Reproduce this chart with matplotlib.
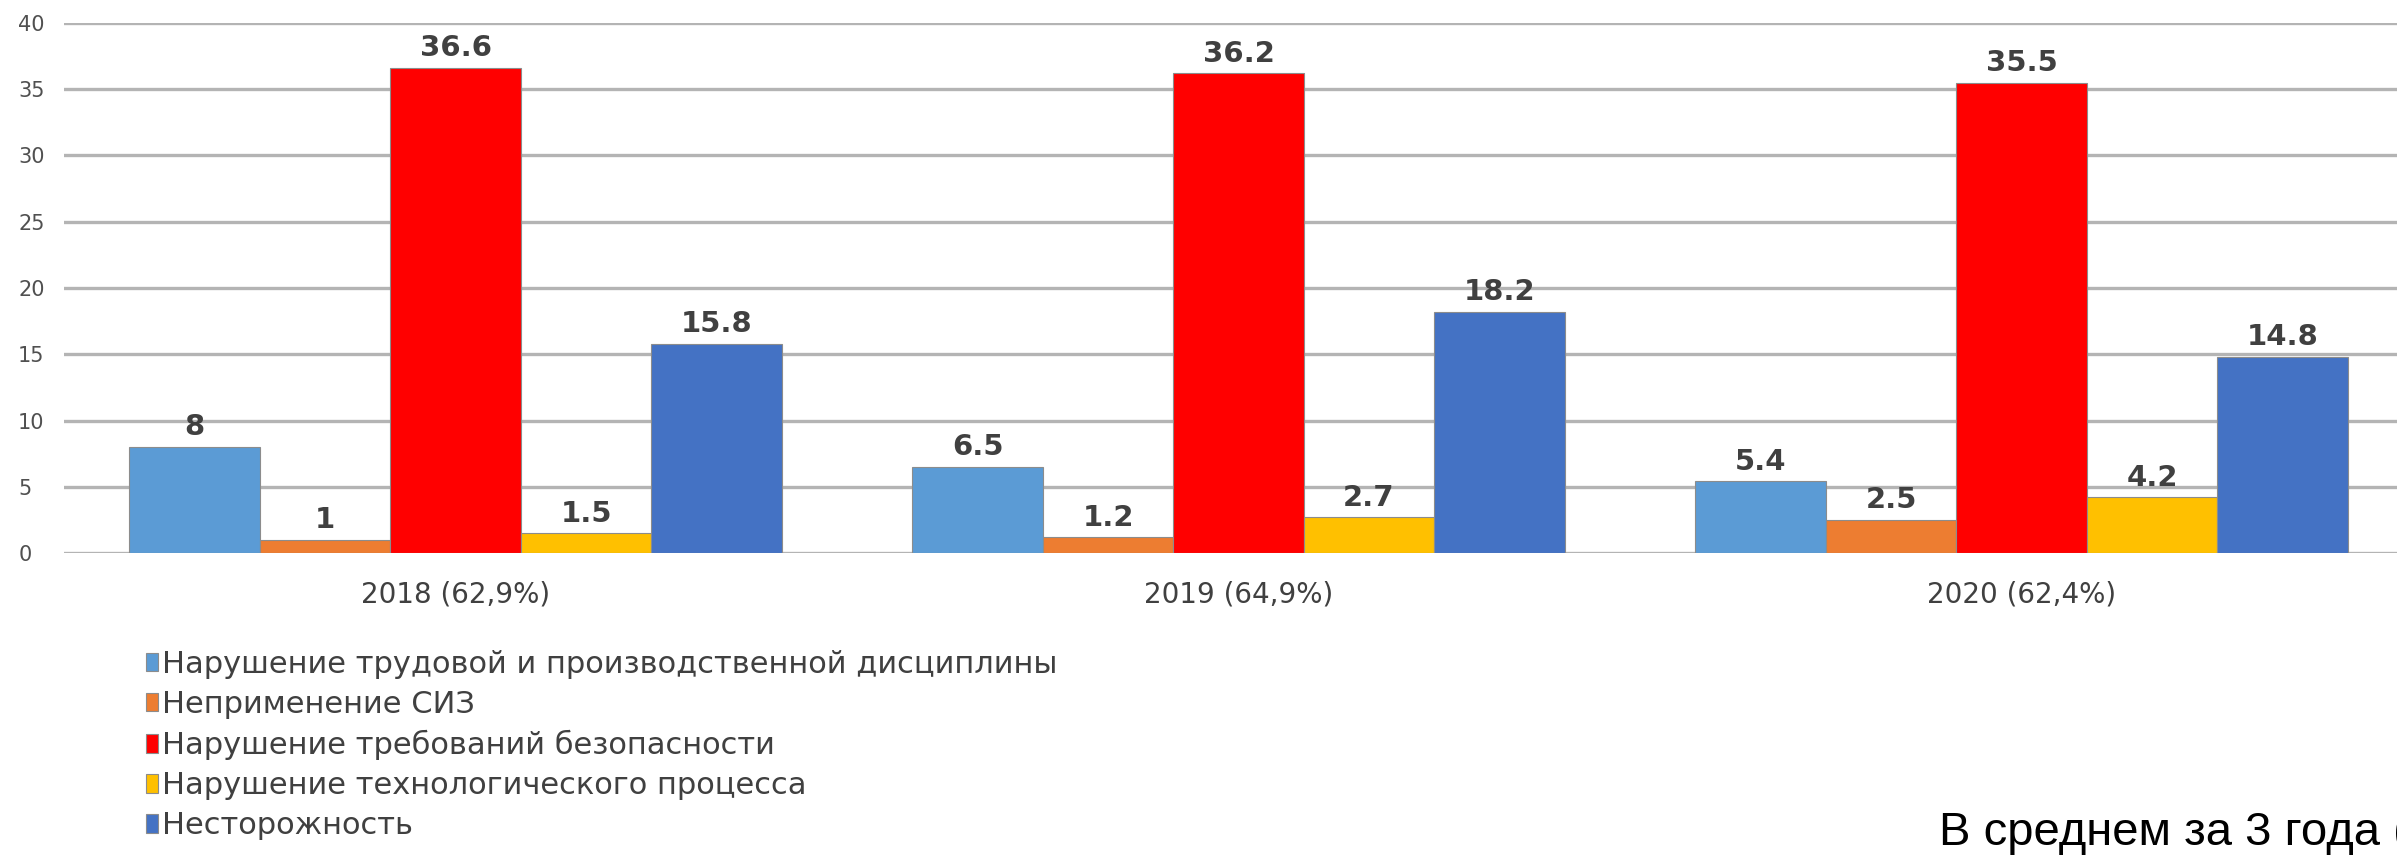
import numpy as np
import matplotlib
matplotlib.use('Agg')
import matplotlib.pyplot as plt

# values
years = ['2018 (62,9%)', '2019 (64,9%)', '2020 (62,4%)']
causes = ['Нарушение трудовой и производственной дисциплины',
          'Неприменение СИЗ',
          'Нарушение требований безопасности',
          'Нарушение технологического процесса',
          'Несторожность']
discipline = [8, 6.5, 5.4]
no_ppe = [1, 1.2, 2.5]
safety = [36.6, 36.2, 35.5]
process = [1.5, 2.7, 4.2]
careless = [15.8, 18.2, 14.8]
colors = ['#5b9bd5', '#ed7d31', '#ff0000', '#ffc000', '#4472c4']
yticks = [0, 5, 10, 15, 20, 25, 30, 35, 40]

plt.rcParams['font.family'] = ['DejaVu Sans']

fig = plt.figure(figsize=(23.97, 8.61), dpi=100)
ax = fig.add_axes([0.0267, 0.3577, 0.980, 0.6156])

x = np.arange(len(years))
w = 1 / 6
series = [discipline, no_ppe, safety, process, careless]
for i, (vals, lab, c) in enumerate(zip(series, causes, colors)):
    bars = ax.bar(x + (i - 2) * w, vals, w, color=c, label=lab,
                  edgecolor='#8c8c8c', linewidth=0.8, zorder=3)
    ax.bar_label(bars, labels=[f'{v:g}' for v in vals], padding=4,
                 fontsize=21, fontweight='bold', color='#404040')

ax.set_xlim(-0.5, 2.5)
ax.set_ylim(0, 40)
ax.set_yticks(yticks)
ax.set_xticks(x)
ax.set_xticklabels(years, fontsize=20, color='#404040')
ax.yaxis.grid(True, color='#b4b4b4', linewidth=2.4)
ax.set_axisbelow(True)
for s in ax.spines.values():
    s.set_visible(False)
ax.tick_params(axis='both', length=0)
ax.tick_params(axis='y', labelsize=15, labelcolor='#505050', pad=33)
ax.tick_params(axis='x', pad=20)
for t in ax.get_yticklabels():
    t.set_horizontalalignment('left')

fig.legend(loc='upper left', bbox_to_anchor=(0.061, 0.245), frameon=False,
           fontsize=22, labelcolor='#404040', handlelength=0.4,
           handleheight=0.55, handletextpad=0.12, labelspacing=0.36,
           borderpad=0, borderaxespad=0)

fig.text(0.809, 0.0325, 'В среднем за 3 года (', fontsize=34,
         family='Liberation Sans', va='center', ha='left', color='black')

fig.savefig('out.png', dpi=100)
